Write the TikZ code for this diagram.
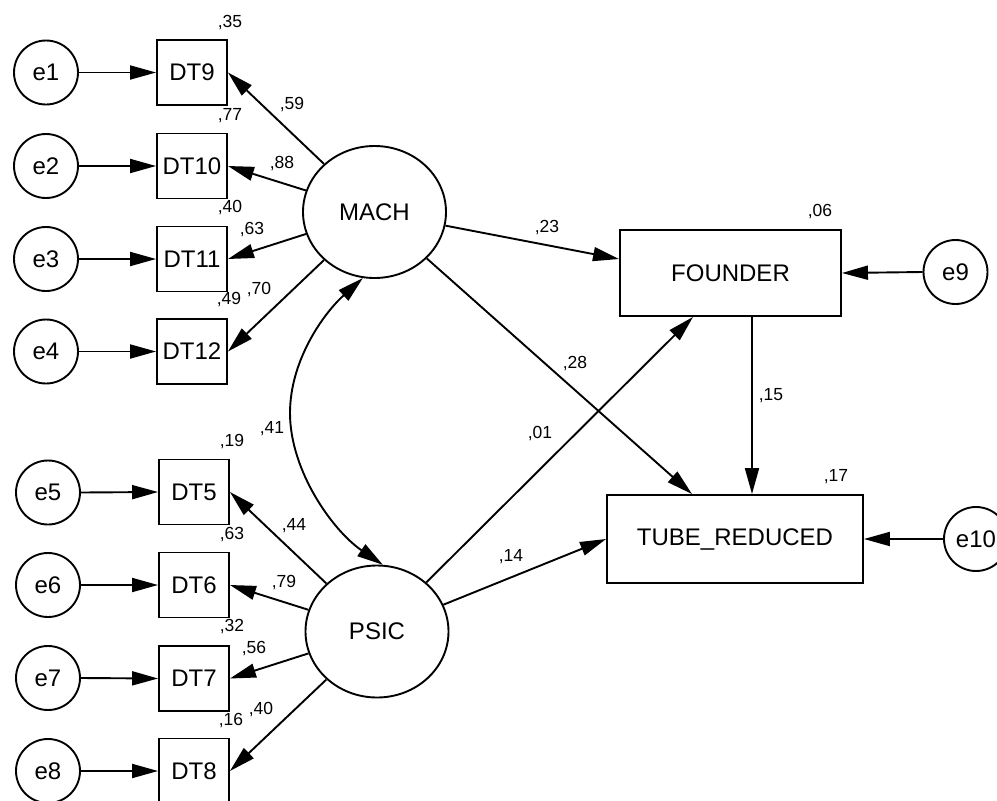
\documentclass[tikz,border=0pt]{standalone}
\usepackage{fontspec}
\setmainfont{Liberation Sans}
\usetikzlibrary{arrows.meta,shapes.geometric}
\begin{document}
\begin{tikzpicture}[x=1pt,y=-1pt,line width=1.9pt,
  txt/.style={font=\fontsize{24}{24}\selectfont},
  err/.style={circle,draw,minimum size=64pt,inner sep=0pt,txt},
  obs/.style={rectangle,draw,minimum width=70pt,minimum height=65pt,inner sep=0pt,txt},
  lat/.style={ellipse,draw,minimum width=143pt,minimum height=132pt,inner sep=0pt,txt},
  val/.style={font=\fontsize{17.5}{17.5}\selectfont,inner sep=0pt},
  arr/.style={-{Triangle[length=26pt,width=14pt]}},
  darr/.style={{Triangle[length=26pt,width=14pt]}-{Triangle[length=26pt,width=14pt]}}]
\useasboundingbox (0,0) rectangle (997,801);
% error terms
\node[err] (e1) at (46,72.5) {e1};
\node[err] (e2) at (46,166) {e2};
\node[err] (e3) at (46,259) {e3};
\node[err] (e4) at (46,351.5) {e4};
\node[err] (e5) at (48,492.5) {e5};
\node[err] (e6) at (48,585) {e6};
\node[err] (e7) at (48,678) {e7};
\node[err] (e8) at (48,771) {e8};
\node[err] (e9) at (955.5,272) {e9};
\node[err] (e10) at (976,539) {e10};
% observed
\node[obs] (DT9) at (192,72.5) {DT9};
\node[obs] (DT10) at (192,166) {DT10};
\node[obs] (DT11) at (192,259) {DT11};
\node[obs] (DT12) at (192,351.5) {DT12};
\node[obs] (DT5) at (194,492) {DT5};
\node[obs] (DT6) at (194,585) {DT6};
\node[obs] (DT7) at (194,678.5) {DT7};
\node[obs] (DT8) at (194,771) {DT8};
\node[rectangle,draw,minimum width=221pt,minimum height=86pt,inner sep=0pt,txt] (FOUNDER) at (730.5,273) {FOUNDER};
\node[rectangle,draw,minimum width=256pt,minimum height=88pt,inner sep=0pt,txt] (TUBE) at (735,539) {TUBE\_REDUCED};
% latent
\node[lat] (MACH) at (374.5,212) {MACH};
\node[lat] (PSIC) at (377,631.5) {PSIC};
% error arrows
\foreach \e/\d in {e1/DT9,e2/DT10,e3/DT11,e4/DT12,e5/DT5,e6/DT6,e7/DT7,e8/DT8}
  \draw[arr] (\e.east) -- (\d.west);
\draw[arr] (e9.west) -- (FOUNDER.east);
\draw[arr] (e10.west) -- (TUBE.east);
% loadings
\foreach \d in {DT9,DT10,DT11,DT12} \draw[arr] (MACH) -- (\d.east);
\foreach \d in {DT5,DT6,DT7,DT8} \draw[arr] (PSIC) -- (\d.east);
% structural paths
\draw[arr] (MACH) -- ([yshift=14pt]FOUNDER.west);
\draw[arr] (MACH) -- ([xshift=-43pt]TUBE.north);
\draw[arr] (PSIC) -- ([xshift=-37.5pt]FOUNDER.south);
\draw[arr] (PSIC) -- (TUBE.west);
\coordinate (f1) at ([xshift=21.5pt]FOUNDER.south);
\draw[arr] (f1) -- (f1 |- TUBE.north);
% covariance
\coordinate (cv) at (290,413);
\draw[darr] (MACH.260) .. controls +(-40,36) and +(0,-52) .. (cv)
  .. controls +(0,58) and +(-50,-34) .. (PSIC.85);
% values
\node[val] (v35) at (230,23) {,35};
\node[val] (v77) at (230,116) {,77};
\node[val] (v40a) at (230,208) {,40};
\node[val] (v49) at (229,300) {,49};
\node[val] (v70) at (259,290) {,70};
\node[val] (v59) at (292,105) {,59};
\node[val] (v88) at (282,164) {,88};
\node[val] (v63a) at (252,230) {,63};
\node[val] (v41) at (272,429) {,41};
\node[val] (v19) at (232,442) {,19};
\node[val] (v44) at (294,526) {,44};
\node[val] (v63b) at (232,535) {,63};
\node[val] (v79) at (284,583) {,79};
\node[val] (v32) at (232,627) {,32};
\node[val] (v56) at (254,649) {,56};
\node[val] (v16) at (231,721) {,16};
\node[val] (v40b) at (261,710) {,40};
\node[val] (v23) at (547,228) {,23};
\node[val] (v06) at (820,212) {,06};
\node[val] (v28) at (575,364) {,28};
\node[val] (v15) at (771,396) {,15};
\node[val] (v01) at (540,434) {,01};
\node[val] (v17) at (836,477) {,17};
\node[val] (v14) at (511,557) {,14};
\end{tikzpicture}
\end{document}
